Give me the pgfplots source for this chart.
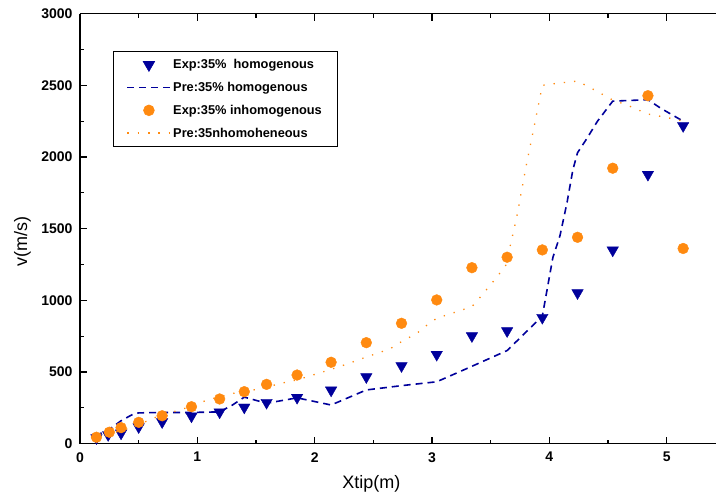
\documentclass[border=0pt]{standalone}
\usepackage{fontspec}
\setmainfont{Liberation Sans}
\usepackage{pgfplots}
\pgfplotsset{compat=1.18}
\definecolor{myblue}{RGB}{0,0,155}
\definecolor{myorange}{RGB}{255,138,16}
\begin{document}
\begin{tikzpicture}
\begin{axis}[
 scale only axis, width=636pt, height=430pt,
 xmin=0, xmax=5.42, ymin=0, ymax=3000,
 axis x line*=box, axis y line*=left,
 axis line style={line width=1.2pt},
 xtick={0,1,2,3,4,5}, ytick={0,500,...,3000},
 minor x tick num=1, minor y tick num=1,
 tick align=inside,
 major tick length=7pt, minor tick length=4pt,
 every tick/.style={black, line width=1.1pt},
 /pgf/number format/assume math mode=true,
 /pgf/number format/set thousands separator={},
 tick label style={font=\bfseries\fontsize{14}{16}\selectfont},
 xticklabel style={yshift=-5pt},
 yticklabel style={xshift=-4pt},
 xlabel={Xtip(m)}, ylabel={v(m/s)},
 label style={font=\fontsize{18}{20}\selectfont},
 xlabel style={at={(axis description cs:0.458,-0.0937)},anchor=center},
 ylabel style={at={(axis description cs:-0.0904,0.47)},anchor=center},
 clip mode=individual,
 legend style={at={(axis description cs:0.0524,0.913)}, anchor=north west, draw=black, line width=0.6pt, font=\bfseries\fontsize{12.8}{14}\selectfont, inner xsep=13pt, inner ysep=6pt, row sep=8pt, cells={anchor=west}},
 legend image code/.code={\draw[mark repeat=2,mark phase=2,#1] plot coordinates {(0pt,0pt)(21.5pt,0pt)(43pt,0pt)};},
]
\addplot[only marks, color=myblue, mark=triangle*, mark size=6.6pt, mark options={rotate=180, fill=myblue, draw=none}] coordinates {
(0.14,40)(0.24,62)(0.35,73)(0.50,117)(0.70,152)(0.95,192)(1.19,220)(1.40,254)(1.59,287)(1.85,322)(2.14,373)(2.44,466)(2.74,543)(3.04,622)(3.34,752)(3.64,787)(3.94,880)(4.24,1052)(4.54,1350)(4.84,1878)(5.14,2218)};
\addlegendentry{Exp:35\%\ \ homogenous}
\addplot[myblue, line width=1.6pt, dash pattern=on 7pt off 5pt] coordinates {
(0.13,55)(0.25,100)(0.35,160)(0.45,205)(0.5,215)(0.7,218)(0.95,218)(1.19,222)(1.3,270)(1.4,325)(1.59,282)(1.85,320)(2.14,270)(2.44,375)(2.74,405)(3.04,432)(3.34,540)(3.64,650)(3.94,890)(4.03,1300)(4.09,1450)(4.15,1680)(4.20,1910)(4.24,2030)(4.32,2130)(4.41,2250)(4.54,2390)(4.84,2400)(4.95,2340)(5.14,2250)};
\addlegendentry{Pre:35\% homogenous}
\addplot[only marks, color=myorange, mark=*, mark size=5.4pt, mark options={fill=myorange, draw=none}] coordinates {
(0.14,45)(0.25,80)(0.35,112)(0.50,149)(0.70,195)(0.95,258)(1.19,312)(1.40,363)(1.59,414)(1.85,479)(2.14,568)(2.44,705)(2.74,840)(3.04,1003)(3.34,1228)(3.64,1301)(3.94,1352)(4.24,1440)(4.54,1922)(4.84,2428)(5.14,1362)};
\addlegendentry{Exp:35\% inhomogenous}
\addplot[myorange, line width=1.3pt, dash pattern=on 1.3pt off 9pt] coordinates {
(0.14,40)(0.25,70)(0.35,90)(0.5,130)(0.6,170)(0.7,200)(0.85,235)(0.95,262)(1.1,310)(1.19,325)(1.31,352)(1.5,378)(1.59,395)(1.75,428)(1.85,445)(2.05,496)(2.14,519)(2.27,554)(2.44,605)(2.56,638)(2.65,666)(2.74,712)(2.87,770)(2.95,823)(3.04,875)(3.17,910)(3.34,956)(3.42,1031)(3.49,1100)(3.56,1170)(3.63,1247)(3.66,1357)(3.72,1573)(3.80,1929)(3.87,2212)(3.94,2500)(4.06,2514)(4.24,2530)(4.36,2479)(4.54,2398)(4.66,2363)(4.84,2300)(4.96,2282)(5.14,2252)};
\addlegendentry{Pre:35nhomoheneous}
\end{axis}
\pgfresetboundingbox
\path[use as bounding box] (-80pt,-55.3pt) rectangle (636pt,443.7pt);
\end{tikzpicture}
\end{document}
